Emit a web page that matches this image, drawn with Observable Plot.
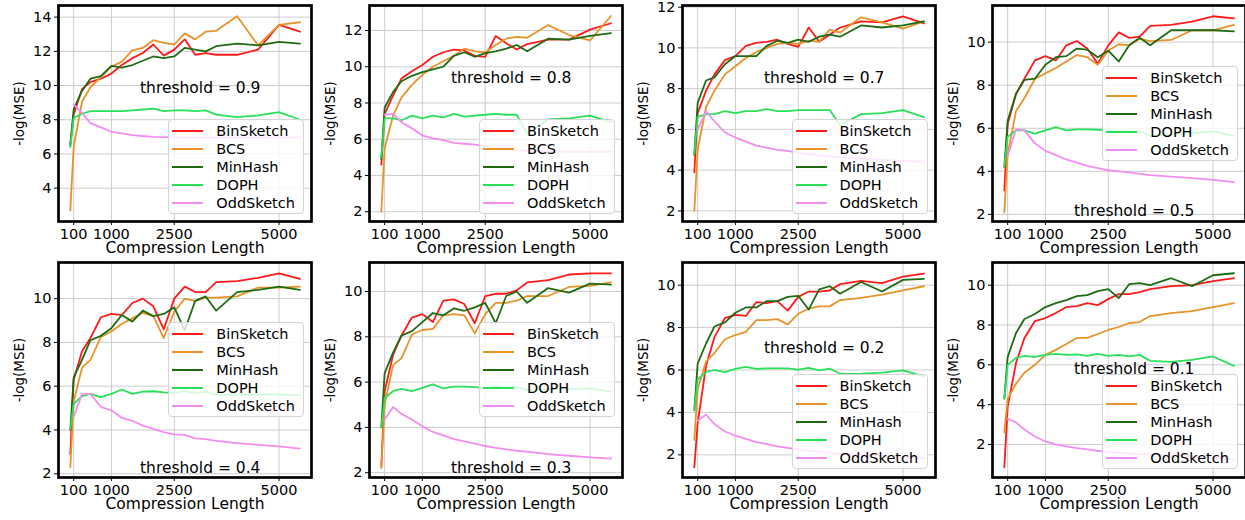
<!DOCTYPE html>
<html><head><meta charset="utf-8">
<script src="https://cdn.jsdelivr.net/npm/d3@7"></script>
<script src="https://cdn.jsdelivr.net/npm/@observablehq/plot@0.6"></script>
<style>
body{margin:0;background:#fff;overflow:hidden;font-family:"DejaVu Sans",sans-serif;}
#root{position:relative;width:1245px;height:520px;overflow:hidden;}
.legend{position:absolute;width:134px;height:93px;border:1px solid #d4d4d4;border-radius:4px;background:rgba(255,255,255,0.8);}
.row{position:absolute;left:0;height:18px;font-size:14.5px;line-height:18px;color:#000;white-space:nowrap;}
.sw{position:absolute;left:3px;top:8px;width:31px;border-top:2px solid;}
.lab{position:absolute;left:47px;top:0;}
</style>
</head><body><div id="root"></div>
<script>
const lengths = [20,100,300,500,750,1000,1250,1500,1750,2000,2250,2500,2750,3000,3250,3500,4000,4500,5000,5500];
const thresholds = ["0.9","0.8","0.7","0.5","0.4","0.3","0.2","0.1"];
const methods = ["BinSketch","BCS","MinHash","DOPH","OddSketch"];
const colors = ["#ff1a1a","#e8932a","#1e6b12","#28e05a","#f38df0"];
const xTicks = [100,1000,2500,5000];

const binSketch = [
 [6.6,8.3,9.8,10.2,10.4,10.7,11.2,11.6,11.9,12.4,11.75,12.1,12.7,11.8,11.9,11.8,11.8,12.1,13.55,13.15],
 [4.6,7.4,8.4,9.35,9.75,10.1,10.55,10.8,10.95,10.9,10.6,10.55,11.7,11.3,10.95,11.25,11.5,11.5,12.05,12.4],
 [3.9,6.8,7.9,8.7,9.4,9.6,10.1,10.25,10.3,10.4,10.2,10.05,11.0,10.3,10.65,11.0,11.3,11.25,11.55,11.2],
 [3.1,6.2,7.6,8.3,9.15,9.35,9.15,9.85,10.05,9.7,9.0,9.85,10.45,10.2,10.25,10.75,10.8,10.95,11.2,11.1],
 [2.9,6.3,7.6,8.2,9.15,9.3,9.25,9.8,10.0,9.65,8.6,10.0,10.55,10.3,10.3,10.75,10.8,10.95,11.15,10.9],
 [2.3,5.6,7.2,8.05,8.85,9.0,8.65,9.6,9.65,9.45,8.6,9.8,9.9,9.9,10.05,10.4,10.5,10.75,10.8,10.8],
 [1.4,3.5,6.2,7.55,8.45,8.6,8.55,9.2,9.15,9.25,8.8,9.45,9.7,9.7,9.75,10.05,10.2,10.1,10.4,10.55],
 [0.85,3.9,6.1,7.35,8.2,8.35,8.6,8.9,8.95,9.1,9.0,9.3,9.55,9.55,9.65,9.8,9.95,10.0,10.2,10.35]
];
const bcs = [
 [2.7,6.4,9.05,9.9,10.5,11.1,11.4,12.05,12.2,12.65,12.5,12.4,13.05,12.7,13.15,13.2,14.05,12.35,13.55,13.7],
 [2.0,5.5,7.3,8.3,9.0,9.55,10.0,10.3,10.6,11.0,10.85,10.8,11.2,11.55,11.65,11.6,12.3,11.75,11.45,12.8],
 [2.0,5.0,7.1,7.9,8.7,9.1,9.5,9.8,10.0,10.2,10.25,10.2,10.35,10.3,10.9,10.75,11.5,11.25,10.95,11.3],
 [2.1,4.8,6.8,7.4,8.3,8.55,8.8,9.1,9.4,9.3,8.95,9.6,9.9,9.85,10.15,10.05,10.1,10.55,10.55,10.8],
 [2.3,5.3,6.85,7.2,8.25,8.5,8.85,9.1,9.35,9.2,8.2,9.4,10.0,9.9,10.05,10.05,10.1,10.5,10.5,10.55],
 [2.2,5.0,6.75,7.05,8.1,8.3,8.35,8.95,9.0,8.95,8.15,9.0,9.5,9.5,9.6,9.8,9.8,10.2,10.25,10.4],
 [2.7,5.1,6.4,6.8,7.45,7.65,7.8,8.35,8.35,8.4,8.15,8.65,8.9,9.0,9.0,9.3,9.4,9.55,9.75,9.95],
 [2.6,4.3,5.05,5.6,6.0,6.5,6.75,7.05,7.35,7.35,7.55,7.75,7.9,8.1,8.15,8.45,8.6,8.7,8.9,9.1]
];
const minHash = [
 [6.5,8.6,9.7,10.4,10.55,11.15,11.05,11.2,11.45,11.7,11.6,11.7,12.2,12.1,12.0,12.3,12.45,12.35,12.55,12.45],
 [4.9,7.75,8.6,9.2,9.5,9.7,9.85,10.0,10.6,10.8,10.55,10.75,10.85,11.0,11.2,10.85,11.55,11.5,11.7,11.85],
 [4.75,7.3,8.4,8.55,9.2,9.6,9.6,9.6,10.1,10.35,10.25,10.4,10.3,10.55,10.65,10.55,11.1,11.0,11.1,11.3],
 [4.2,6.35,7.6,8.25,8.3,8.95,9.3,9.35,9.7,9.65,9.3,9.6,9.1,9.85,10.2,9.85,10.55,10.55,10.55,10.5],
 [4.0,6.4,7.2,8.1,8.3,8.65,9.25,8.95,9.45,9.2,9.3,9.6,8.55,9.9,10.1,9.45,10.3,10.4,10.55,10.4],
 [4.0,6.4,7.3,8.05,8.25,8.65,9.05,8.95,9.25,9.15,9.3,9.5,8.6,9.8,10.0,9.5,10.15,9.95,10.35,10.3],
 [4.1,6.3,7.25,8.05,8.25,8.7,8.95,8.95,9.25,9.25,9.45,9.5,8.85,9.8,9.95,9.6,10.15,9.7,10.25,10.3],
 [4.3,6.4,7.6,8.3,8.55,8.9,9.1,9.25,9.45,9.5,9.7,9.8,9.35,10.05,10.1,10.0,10.35,9.95,10.5,10.6]
];
const doph = [
 [6.4,8.1,8.35,8.5,8.5,8.5,8.5,8.55,8.6,8.65,8.5,8.55,8.55,8.5,8.55,8.3,8.15,8.25,8.45,8.0],
 [5.0,7.15,7.15,7.05,7.3,7.15,7.3,7.2,7.4,7.25,7.3,7.35,7.4,7.35,7.35,6.3,7.1,7.15,7.3,6.95],
 [4.8,6.6,6.75,6.75,6.9,6.8,6.9,6.9,7.0,6.9,6.9,6.95,6.95,6.95,6.95,6.2,6.75,6.8,6.95,6.6],
 [4.2,5.6,5.9,5.9,5.75,5.9,6.05,5.9,5.95,5.95,5.93,5.9,5.88,5.85,5.85,5.65,5.72,5.78,5.85,5.65],
 [4.05,5.2,5.55,5.65,5.5,5.65,5.85,5.65,5.75,5.77,5.72,5.7,5.78,5.68,5.75,5.6,5.62,5.62,5.62,5.58],
 [4.0,5.3,5.6,5.7,5.6,5.75,5.9,5.72,5.8,5.8,5.78,5.75,5.82,5.75,5.8,5.65,5.7,5.68,5.72,5.58],
 [4.1,5.55,5.9,6.0,5.9,6.05,6.15,6.05,6.08,6.08,6.08,6.02,6.1,5.98,6.07,5.82,5.83,5.88,5.98,5.7],
 [4.3,6.0,6.35,6.45,6.4,6.5,6.55,6.5,6.52,6.45,6.55,6.45,6.5,6.42,6.5,6.2,6.15,6.25,6.42,5.95]
];
const oddSketch = [
 [null,8.9,8.4,7.8,7.55,7.3,7.2,7.1,7.05,7.0,6.98,6.97,6.96,6.95,6.95,6.95,6.96,6.96,6.97,6.97],
 [null,7.35,7.4,6.95,6.6,6.2,6.05,5.95,5.8,5.75,5.7,5.6,5.5,5.45,5.4,5.37,5.33,5.3,5.3,5.3],
 [null,6.0,6.9,6.4,5.85,5.6,5.4,5.2,5.1,5.0,4.95,4.85,4.78,4.72,4.67,4.62,4.55,4.5,4.45,4.42],
 [null,4.7,5.95,5.9,5.3,4.95,4.75,4.55,4.4,4.25,4.15,4.05,4.0,3.95,3.88,3.82,3.75,3.68,3.6,3.5],
 [null,4.6,5.65,5.65,5.05,4.9,4.55,4.42,4.2,4.05,3.9,3.8,3.78,3.62,3.58,3.5,3.4,3.32,3.25,3.15],
 [null,4.35,4.9,4.6,4.35,4.05,3.8,3.65,3.48,3.38,3.28,3.18,3.1,3.03,2.97,2.93,2.82,2.75,2.68,2.62],
 [null,3.6,3.9,3.45,3.1,2.9,2.75,2.6,2.5,2.4,2.33,2.25,2.2,2.15,2.1,2.05,2.0,1.95,1.9,1.85],
 [null,3.3,3.1,2.75,2.4,2.15,2.0,1.9,1.82,1.75,1.68,1.62,1.58,1.55,1.52,1.5,1.45,1.4,1.35,1.25]
];
const series = [binSketch, bcs, minHash, doph, oddSketch];

const yDomains = [[2.05,14.68],[1.46,13.38],[1.48,12.08],[1.67,11.7],[1.83,11.65],[1.79,11.28],[0.93,11.07],[0.34,11.14]];
const yTicks = [[4,6,8,10,12,14],[2,4,6,8,10,12],[2,4,6,8,10,12],[2,4,6,8,10],[2,4,6,8,10],[2,4,6,8,10],[2,4,6,8,10],[2,4,6,8,10]];
const labelX = 3120;
const labelY = [9.86,9.37,8.53,2.14,2.26,2.2,7.04,5.8];
const legendLoc = ["lower right","lower right","lower right","center right","center right","center right","lower right","lower right"];

const root = document.getElementById("root");
const colLeft = [58.3, 369, 681.5, 992.3];
const rowTop = [5, 261.7];
const frameW = 253, frameH = [216, 215];
const mL = 58, mR = 2, mT = 5, mB = 37;

for (let i = 0; i < 8; i++) {
  const c = i % 4, r = Math.floor(i / 4);
  const tidy = [];
  methods.forEach((m, k) => series[k][i].forEach((v, j) => tidy.push({x: lengths[j], y: v, method: m})));
  const chart = Plot.plot({
    width: mL + frameW + mR,
    height: mT + frameH[r] + mB,
    marginLeft: mL, marginRight: mR, marginTop: mT, marginBottom: mB,
    style: {fontFamily: "DejaVu Sans", color: "black", background: "transparent", overflow: "visible"},
    x: {domain: [-262, 5775]},
    y: {domain: yDomains[i]},
    color: {domain: methods, range: colors},
    marks: [
      Plot.gridX({ticks: xTicks, stroke: "#cccccc", strokeOpacity: 1, strokeWidth: 1}),
      Plot.gridY({ticks: yTicks[i], stroke: "#cccccc", strokeOpacity: 1, strokeWidth: 1}),
      Plot.axisX({ticks: xTicks, tickFormat: d => String(d), tickSize: 4, tickPadding: 3, fontSize: 14.5, label: null}),
      Plot.axisY({ticks: yTicks[i], tickFormat: d => String(d), tickSize: 4, tickPadding: 3, fontSize: 14.5, label: null}),
      Plot.line(tidy, {x: "x", y: "y", z: "method", stroke: "method", strokeWidth: 1.8}),
      Plot.text([{x: labelX, y: labelY[i], t: "threshold = " + thresholds[i]}], {x: "x", y: "y", text: "t", fontSize: 15.5, fill: "black"}),
      Plot.text(["Compression Length"], {text: d => d, frameAnchor: "bottom", lineAnchor: "middle", textAnchor: "middle", dy: 27, fontSize: 15.5, fill: "black"}),
      Plot.text(["-log(MSE)"], {text: d => d, frameAnchor: "left", lineAnchor: "middle", textAnchor: "middle", dx: -39, rotate: -90, fontSize: 13.5, fill: "black"}),
      Plot.frame({stroke: "black", strokeWidth: 2.7})
    ]
  });
  chart.style.position = "absolute";
  chart.style.left = (colLeft[c] - mL) + "px";
  chart.style.top = (rowTop[r] - mT) + "px";
  chart.style.maxWidth = "none";
  root.appendChild(chart);

  const lg = document.createElement("div");
  lg.className = "legend";
  lg.style.left = (colLeft[c] + 110) + "px";
  const boxTop = legendLoc[i] === "lower right" ? frameH[r] - 95 - 7.5 : (frameH[r] - 95) / 2;
  lg.style.top = (rowTop[r] + boxTop) + "px";
  methods.forEach((m, k) => {
    const row = document.createElement("div");
    row.className = "row";
    row.style.top = (2.3 + 18 * k) + "px";
    row.innerHTML = `<span class="sw" style="border-color:${colors[k]}"></span><span class="lab">${m}</span>`;
    lg.appendChild(row);
  });
  root.appendChild(lg);
}
</script>
</body></html>
